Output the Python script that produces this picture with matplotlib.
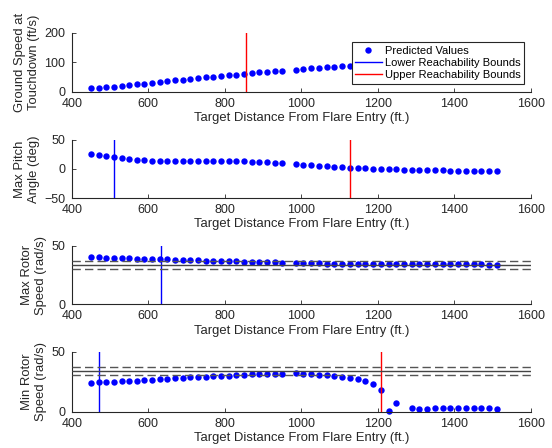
import numpy as np
import matplotlib
matplotlib.use("Agg")
import matplotlib.pyplot as plt
from matplotlib.lines import Line2D

plt.rcParams['font.family'] = ['Liberation Sans', 'DejaVu Sans']
plt.rcParams['font.size'] = 9

# target distances (ft) -- run near 970 ft failed, so two blocks
dist_a = [450, 470, 490, 510, 530, 550, 570, 590, 610, 630, 650, 670, 690,
          710, 730, 750, 770, 790, 810, 830, 850, 870, 890, 910, 930, 950]
dist_b = [985, 1005, 1026, 1046, 1066, 1086, 1107, 1127, 1147, 1167, 1187,
          1208, 1228, 1248, 1268, 1288, 1308, 1329, 1349, 1369, 1389, 1409,
          1429, 1450, 1470, 1490, 1510]

ground_speed = [12, 14, 16, 18, 20.5, 23, 25, 28, 31, 33.5, 36, 38.5, 41,
                43.5, 46, 48.5, 51, 53.5, 56, 58, 60.5, 63, 65.5, 68, 70, 72,
                75, 77, 79, 81, 83, 85, 87, 89, 91, 93, 95, 97, 99, 101, 103,
                105, 107, 109, 111, 113, 115, 117, 119, 121, 123, 125, 127]

max_pitch = [25.2, 23.4, 21.7, 20.0, 18.0, 16.8, 15.5, 14.5, 13.7, 14.2,
             14.3, 14.3, 14.3, 14.3, 14.3, 14.2, 14.0, 13.9, 13.7, 13.4, 13.0,
             12.5, 11.8, 11.2, 10.3, 9.5,
             8.5, 7.5, 6.7, 5.8, 4.8, 3.8, 3.0, 2.3, 1.5, 0.8, 0.2, -0.3, -0.7,
             -1.0, -1.3, -1.6, -1.9, -2.2, -2.4, -2.7, -2.9, -3.1, -3.3, -3.5,
             -3.7, -3.9, -4.1]

max_rotor = [40.2, 40.1, 39.9, 39.7, 39.5, 39.3, 39.1, 38.9, 38.8, 38.6,
             38.4, 38.2, 38.0, 37.8, 37.6, 37.4, 37.2, 37.0, 36.8, 36.7, 36.5,
             36.3, 36.1, 36.0, 35.8, 35.7,
             35.4, 35.3, 35.1, 35.0, 34.9, 34.8, 34.7, 34.6, 34.5, 34.5, 34.4,
             34.4, 34.3, 34.3, 34.3, 34.2, 34.2, 34.2, 34.2, 34.1, 34.1, 34.1,
             34.1, 34.1, 34.1, 34.0, 34.0]

min_rotor = [24.2, 24.4, 24.7, 25.0, 25.3, 25.6, 25.8, 26.4, 26.7, 27.2,
             27.5, 27.8, 28.3, 28.6, 28.9, 29.2, 29.4, 29.7, 30.0, 30.3, 30.9,
             31.2, 31.4, 31.4, 31.7, 31.7,
             32.0, 31.4, 31.2, 30.9, 30.3, 29.7, 28.9, 28.1, 27.0, 25.8, 23.4,
             18.4, 0.3, 7.3, np.nan, 2.8, 2.5, 2.2, 2.8, 3.1, 2.8, 3.3, 3.3,
             3.1, 3.3, 3.1, 2.5]

# reachability bounds per panel (None = not drawn)
lower_bounds = [None, 510, 632, 470]
upper_bounds = [854, 1127, None, 1208]

# nominal rotor speed band
rotor_nominal = 34.0
rotor_band = 0.1

ylabels = ['Ground Speed at\nTouchdown (ft/s)', 'Max Pitch\nAngle (deg)',
           'Max Rotor\nSpeed (rad/s)', 'Min Rotor\nSpeed (rad/s)']
ylims = [(0, 200), (-50, 50), (0, 50), (0, 50)]
yticks = [[0, 100, 200], [-50, 0, 50], [0, 50], [0, 50]]
series = [ground_speed, max_pitch, max_rotor, min_rotor]

dist = np.array(dist_a + dist_b, dtype=float)
axcol = '#262626'

fig = plt.figure(figsize=(5.52, 4.48), dpi=100)
# [left, bottom, width, height] for each panel
boxes = [[0.130, 0.795, 0.832, 0.132],
         [0.130, 0.558, 0.832, 0.130],
         [0.130, 0.321, 0.832, 0.130],
         [0.130, 0.081, 0.832, 0.134]]

for i in range(4):
    ax = fig.add_axes(boxes[i])
    vals = np.array(series[i], dtype=float)
    ax.plot(dist, vals, 'o', color='#0000ff', markersize=4.6,
            markeredgewidth=0, clip_on=False, zorder=2)
    if lower_bounds[i] is not None:
        ax.axvline(lower_bounds[i], color='#0000ff', lw=1, zorder=3)
    if upper_bounds[i] is not None:
        ax.axvline(upper_bounds[i], color='#ff0000', lw=1, zorder=3)
    if i >= 2:
        ax.axhline(rotor_nominal, color='#444444', lw=1, zorder=4)
        for f in (1 + rotor_band, 1 - rotor_band):
            ax.axhline(rotor_nominal * f, color='#555555', lw=1,
                       ls=(0, (6, 3)), zorder=4)

    ax.set_xlim(400, 1600)
    ax.set_ylim(*ylims[i])
    ax.set_xticks(range(400, 1601, 200))
    ax.set_yticks(yticks[i])
    ax.set_xlabel('Target Distance From Flare Entry (ft.)', fontsize=9.4,
                  labelpad=1.5, color=axcol)
    ax.set_ylabel(ylabels[i], fontsize=9.4, labelpad=3, color=axcol,
                  linespacing=1.3)
    for side in ('top', 'right'):
        ax.spines[side].set_visible(False)
    for side in ('left', 'bottom'):
        ax.spines[side].set_color(axcol)
        ax.spines[side].set_linewidth(0.8)
    ax.tick_params(direction='in', length=3, width=0.6, colors=axcol,
                   labelsize=9)
    ax.tick_params(axis='x', pad=4.5)
    ax.tick_params(axis='y', pad=4.5)

    if i == 0:
        handles = [Line2D([], [], ls='none', marker='o', color='#0000ff',
                          markersize=4.6, markeredgewidth=0),
                   Line2D([], [], color='#0000ff', lw=1),
                   Line2D([], [], color='#ff0000', lw=1)]
        leg = ax.legend(handles, ['Predicted Values',
                                  'Lower Reachability Bounds',
                                  'Upper Reachability Bounds'],
                        loc='upper right', bbox_to_anchor=(0.985, 0.835),
                        fontsize=8, frameon=True, fancybox=False,
                        framealpha=1, edgecolor=axcol, handlelength=2.4,
                        handletextpad=0.3, borderpad=0.3, labelspacing=0.2,
                        borderaxespad=0)
        leg.get_frame().set_linewidth(0.8)
        leg.set_zorder(10)

fig.savefig('out.png', dpi=100)
